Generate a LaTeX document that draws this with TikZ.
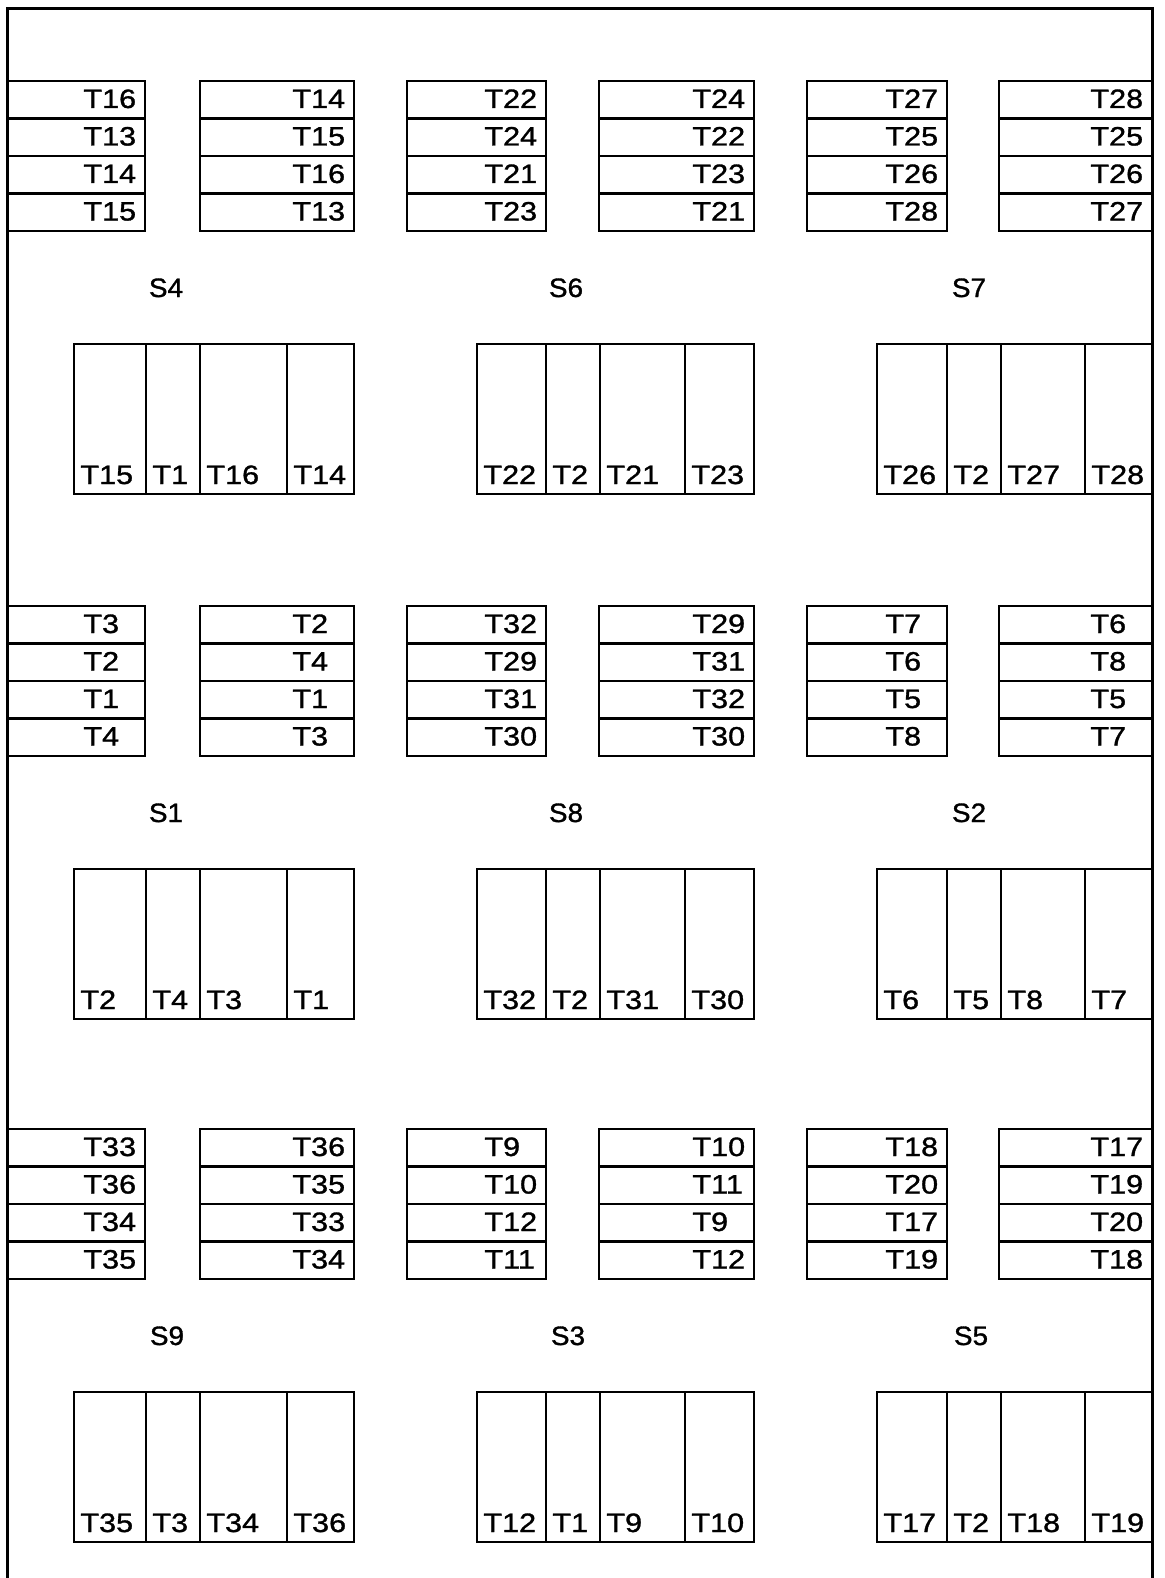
\documentclass[tikz,border=0pt]{standalone}
\usepackage{fontspec}
\setmainfont{Liberation Sans}[FakeStretch=1.15,FakeBold=1.2]
\newfontfamily\sitefont{Liberation Sans}[FakeStretch=1.05,FakeBold=1.2]

\tikzset{
  box/.style={line width=1.4pt},
  frame/.style={line width=1.5pt},
  tlab/.style={anchor=base west, inner sep=0pt, font=\fontsize{13.3}{15}\selectfont},
  slab/.style={anchor=base, inner sep=0pt, font=\sitefont\fontsize{13.3}{15}\selectfont},
}

\begin{document}
\begin{tikzpicture}[x=0.5pt,y=-0.5pt]
\useasboundingbox (0,0) rectangle (1165,1578);

% outer wall, open at the bottom
\draw[frame] (7,1578) -- (7,9) -- (1152,9) -- (1152,1578);

% stacks of four cells, one row per band
\foreach \band/\dy/\rows in {
  1/0/{7/145/T16/T13/T14/T15, 200/354/T14/T15/T16/T13, 407/546/T22/T24/T21/T23,
       599/754/T24/T22/T23/T21, 807/947/T27/T25/T26/T28, 999/1152/T28/T25/T26/T27},
  2/525/{7/145/T3/T2/T1/T4, 200/354/T2/T4/T1/T3, 407/546/T32/T29/T31/T30,
       599/754/T29/T31/T32/T30, 807/947/T7/T6/T5/T8, 999/1152/T6/T8/T5/T7},
  3/1048/{7/145/T33/T36/T34/T35, 200/354/T36/T35/T33/T34, 407/546/T9/T10/T12/T11,
       599/754/T10/T11/T9/T12, 807/947/T18/T20/T17/T19, 999/1152/T17/T19/T20/T18}} {
  \foreach \xl/\xr/\a/\b/\c/\d [count=\s] in \rows {
    \foreach \t [count=\r] in {\a,\b,\c,\d} {
      \draw[box] (\xl,{81+\dy+37.5*(\r-1)}) rectangle (\xr,{81+\dy+37.5*\r});
      \node[tlab] (h\band-\s-\r) at (\xr-62,{81+\dy+37.5*(\r-1)+27}) {\t};
    }
  }
}

% site labels and groups of four upright cells
\foreach \band/\dy/\groups in {
  1/0/{74/146/200/287/354/166/S4/T15/T1/T16/T14, 477/546/600/685/754/566/S6/T22/T2/T21/T23,
       877/947/1001/1085/1152/969/S7/T26/T2/T27/T28},
  2/525/{74/146/200/287/354/166/S1/T2/T4/T3/T1, 477/546/600/685/754/566/S8/T32/T2/T31/T30,
       877/947/1001/1085/1152/969/S2/T6/T5/T8/T7},
  3/1048/{74/146/200/287/354/167/S9/T35/T3/T34/T36, 477/546/600/685/754/568/S3/T12/T1/T9/T10,
       877/947/1001/1085/1152/971/S5/T17/T2/T18/T19}} {
  \foreach \xa/\xb/\xc/\xd/\xe/\sx/\sname/\a/\b/\c/\d [count=\g] in \groups {
    \node[slab] (\sname) at (\sx,297+\dy) {\sname};
    \draw[box] (\xa,344+\dy) rectangle (\xe,494+\dy);
    \draw[box] (\xb,344+\dy) -- (\xb,494+\dy)
               (\xc,344+\dy) -- (\xc,494+\dy)
               (\xd,344+\dy) -- (\xd,494+\dy);
    \node[tlab] (v\band-\g-1) at (\xa+6,484+\dy) {\a};
    \node[tlab] (v\band-\g-2) at (\xb+6,484+\dy) {\b};
    \node[tlab] (v\band-\g-3) at (\xc+6,484+\dy) {\c};
    \node[tlab] (v\band-\g-4) at (\xd+6,484+\dy) {\d};
  }
}
\end{tikzpicture}
\end{document}
